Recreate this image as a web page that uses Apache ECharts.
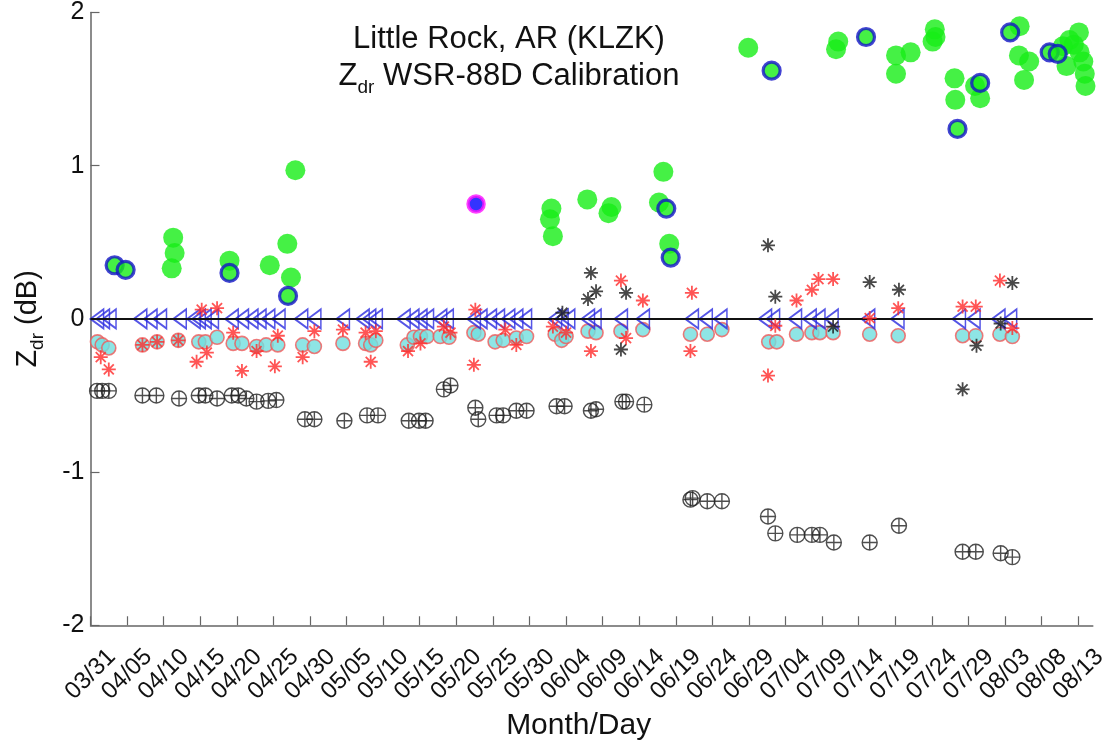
<!DOCTYPE html>
<html>
<head>
<meta charset="utf-8">
<script src="https://cdn.jsdelivr.net/npm/echarts@6/dist/echarts.min.js"></script>
<style>html,body{margin:0;padding:0;background:#fff}#c{width:1110px;height:746px}</style>
</head>
<body>
<div id="c"></div>
<script>
// x values: days since 03/31
const tickLabels = ['03/31','04/05','04/10','04/15','04/20','04/25','04/30','05/05','05/10','05/15','05/20','05/25','05/30','06/04','06/09','06/14','06/19','06/24','06/29','07/04','07/09','07/14','07/19','07/24','07/29','08/03','08/08','08/13'];
const yTicks = [-2, -1, 0, 1, 2];

const greenPts = [[11.3,0.53],[11.5,0.43],[11.1,0.33],[19.0,0.38],[24.5,0.35],[26.9,0.49],[27.4,0.27],[28.0,0.97],
 [63.0,0.72],[62.8,0.65],[63.2,0.54],[67.9,0.78],[71.2,0.73],[70.8,0.69],[78.3,0.96],[77.7,0.76],[79.1,0.49],
 [89.9,1.77],[102.2,1.81],[101.9,1.76],[110.1,1.72],[112.1,1.74],[110.1,1.60],[115.4,1.89],[115.5,1.84],[115.1,1.81],
 [118.1,1.57],[118.2,1.43],[120.9,1.52],[121.6,1.44],[127.0,1.91],[126.9,1.72],[128.3,1.68],[127.6,1.56],
 [135.1,1.87],[133.8,1.82],[134.4,1.79],[135.2,1.74],[133.4,1.65],[135.7,1.68],[135.9,1.60],[136.0,1.52],[132.9,1.78]];
const greenBluePts = [[3.3,0.35],[4.8,0.32],[19.0,0.30],[27.0,0.15],[78.7,0.72],[79.3,0.40],[93.1,1.62],[106.0,1.84],[118.5,1.24],[121.6,1.54],[125.7,1.87],[131.1,1.74],[132.2,1.73]];
const magentaPts = [[52.7,0.75]];
const triangleDays = [0.9,1.7,2.6,6.8,8.2,9.5,12.2,14.1,14.8,15.6,16.6,19.3,20.7,22.0,23.1,24.3,25.7,28.8,30.6,34.5,37.2,38.1,39.0,42.8,44.0,45.1,46.0,47.8,48.7,52.4,53.3,54.6,55.7,57.1,58.2,59.4,63.5,64.4,65.3,68.0,68.9,72.5,75.5,82.2,84.1,86.1,92.2,93.3,96.3,98.3,99.5,101.3,106.3,110.3,118.7,120.7,124.1,125.7];
const triangleVals = triangleDays.map(() => 0);
const cyanPts = [[0.95,-0.15],[1.6,-0.17],[2.5,-0.19],[7.1,-0.17],[9.1,-0.15],[12.0,-0.14],[14.8,-0.15],[15.7,-0.15],[17.3,-0.12],[19.5,-0.16],[20.7,-0.16],[22.7,-0.18],[24.0,-0.17],[25.6,-0.17],[29.0,-0.17],[30.6,-0.18],[34.5,-0.16],[37.6,-0.16],[38.3,-0.17],[39.0,-0.14],[43.3,-0.17],[44.2,-0.12],[45.1,-0.115],[46.0,-0.115],[47.8,-0.115],[49.0,-0.12],[52.4,-0.09],[53.0,-0.10],[55.3,-0.15],[56.4,-0.14],[58.2,-0.125],[59.6,-0.115],[63.5,-0.10],[64.4,-0.14],[65.0,-0.115],[68.0,-0.08],[69.1,-0.09],[72.5,-0.08],[75.5,-0.07],[82.0,-0.10],[84.3,-0.10],[86.3,-0.07],[92.7,-0.15],[93.8,-0.15],[96.5,-0.10],[98.6,-0.09],[99.7,-0.09],[101.5,-0.09],[106.5,-0.10],[110.4,-0.11],[119.2,-0.11],[121.0,-0.11],[124.3,-0.10],[126.0,-0.115]];
const redStarPts = [[15.2,0.06],[17.3,0.07],[1.4,-0.25],[2.5,-0.33],[14.5,-0.28],[15.9,-0.22],[19.5,-0.09],[20.7,-0.34],[22.7,-0.21],[25.2,-0.31],[25.6,-0.11],[7.1,-0.17],[9.1,-0.15],[12.0,-0.14],
 [30.6,-0.08],[29.0,-0.25],[34.5,-0.07],[37.6,-0.09],[39.0,-0.08],[38.3,-0.28],[43.4,-0.21],[45.1,-0.16],[48.3,-0.05],[49.2,-0.09],[52.6,0.06],[52.4,-0.30],
 [56.7,-0.07],[58.2,-0.17],[63.2,-0.05],[65.0,-0.09],[68.4,-0.21],[72.5,0.25],[73.2,-0.125],[75.5,0.12],[82.0,-0.21],[82.2,0.17],
 [92.6,-0.37],[93.6,-0.045],[96.5,0.12],[98.6,0.19],[99.5,0.26],[101.5,0.26],[106.5,0.005],[110.4,0.07],[119.2,0.08],[121.0,0.08],[124.3,0.25],[126.0,-0.06]];
const blackStarPts = [[68.4,0.30],[69.1,0.18],[68.0,0.13],[73.2,0.17],[72.5,-0.20],[64.5,0.04],[92.6,0.48],[93.6,0.145],[106.5,0.24],[110.5,0.19],[119.2,-0.46],[121.1,-0.175],[126.0,0.235],[124.4,-0.03],[101.5,-0.05]];
const circlePlusPts = [[0.9,-0.47],[1.6,-0.47],[2.5,-0.47],[7.1,-0.50],[9.0,-0.50],[12.1,-0.52],[14.8,-0.50],[15.7,-0.50],[17.3,-0.52],[19.3,-0.50],[20.2,-0.50],[21.3,-0.52],[22.7,-0.54],[24.3,-0.535],[25.4,-0.53],[29.3,-0.655],[30.6,-0.655],[34.7,-0.665],[37.8,-0.63],[39.3,-0.63],[43.5,-0.665],[44.9,-0.665],[45.8,-0.665],[48.3,-0.46],[49.2,-0.435],[52.6,-0.58],[53.0,-0.655],[55.5,-0.63],[56.4,-0.63],[58.2,-0.60],[59.6,-0.60],[63.7,-0.57],[64.8,-0.57],[68.4,-0.60],[69.1,-0.59],[72.7,-0.54],[73.2,-0.54],[75.7,-0.56],[82.0,-1.18],[82.3,-1.17],[84.3,-1.19],[86.3,-1.19],[92.6,-1.29],[93.6,-1.40],[96.6,-1.41],[98.6,-1.41],[99.7,-1.41],[101.6,-1.46],[106.5,-1.46],[110.5,-1.35],[119.2,-1.52],[121.0,-1.52],[124.4,-1.53],[126.0,-1.555]];

const tickDays = tickLabels.map((_, i) => i * 5);
const FONT = '"Liberation Sans", Arial, Helvetica, sans-serif';
const STAR = 'path://M0 7L14 7M7 0L7 14M2 2L12 12M12 2L2 12';
const CPLUS = 'path://M0 7A7 7 0 1 1 14 7A7 7 0 1 1 0 7ZM0 7L14 7M7 0L7 14';

const chart = echarts.init(document.getElementById('c'), null, {renderer: 'canvas'});
chart.setOption({
  animation: false,
  backgroundColor: '#fff',
  textStyle: {fontFamily: FONT},
  title: {
    text: '{a|Little Rock, AR (KLZK)}\n{a|Z}{s|dr}{a| WSR-88D Calibration}',
    left: 504, top: 16, textAlign: 'center',
    textStyle: {
      fontWeight: 'normal', fontFamily: FONT,
      rich: {
        a: {fontSize: 31, lineHeight: 37, color: '#111', fontFamily: FONT},
        s: {fontSize: 19, lineHeight: 14, padding: [23, 0, 0, 0], color: '#111', fontFamily: FONT}
      }
    }
  },
  grid: {left: 88, right: 13, top: 11, bottom: 118, containLabel: false},
  xAxis: {
    type: 'value', min: 0, max: 137, interval: 5,
    name: 'Month/Day', nameLocation: 'middle', nameGap: 81,
    nameTextStyle: {fontSize: 30, color: '#111', fontFamily: FONT, padding: [0, 26, 0, 0]},
    axisLine: {show: true, onZero: false, lineStyle: {color: '#666', width: 1.5}},
    axisTick: {show: true, inside: true, length: 9, customValues: tickDays, lineStyle: {color: '#666', width: 1.2}},
    axisLabel: {
      customValues: tickDays, rotate: 45, align: 'center', verticalAlign: 'middle', margin: 49,
      fontSize: 24, color: '#111', fontFamily: FONT,
      formatter: v => tickLabels[Math.round(v / 5)]
    },
    splitLine: {show: false}
  },
  yAxis: {
    type: 'value', min: yTicks[0], max: yTicks[yTicks.length - 1], interval: 1,
    name: '{z|Z}{s|dr}{z| (dB)}', nameLocation: 'middle', nameGap: 46,
    nameTextStyle: {
      color: '#111',
      rich: {
        z: {fontSize: 29, lineHeight: 34, color: '#111', fontFamily: FONT},
        s: {fontSize: 19, lineHeight: 14, padding: [20, 0, 0, 0], color: '#111', fontFamily: FONT}
      }
    },
    axisLine: {show: true, onZero: false, lineStyle: {color: '#666', width: 1.5}},
    axisTick: {show: true, inside: true, length: 9, lineStyle: {color: '#666', width: 1.2}},
    axisLabel: {fontSize: 25, color: '#111', margin: 6, fontFamily: FONT},
    splitLine: {show: false}
  },
  series: [
    {type: 'scatter', name: 'cyan', data: cyanPts, symbol: 'circle', symbolSize: 14,
     itemStyle: {color: '#72dede', borderColor: '#f05a5a', borderWidth: 1.6}, z: 2},
    {type: 'scatter', name: 'tri', data: triangleDays.map((d, i) => [d, triangleVals[i]]), symbol: 'triangle', symbolSize: [19, 13], symbolRotate: 90,
     itemStyle: {color: 'rgba(0,0,0,0)', borderColor: '#2a2ae0', borderWidth: 1.8}, z: 3},
    {type: 'line', name: 'zero', data: [], z: 4, silent: true,
     markLine: {silent: true, symbol: ['none', 'none'], label: {show: false}, animation: false,
       lineStyle: {color: '#111', width: 2, type: 'solid'}, data: [{yAxis: 0}]}},
    {type: 'scatter', name: 'redstar', data: redStarPts, symbol: STAR, symbolSize: 14,
     itemStyle: {color: 'rgba(0,0,0,0)', borderColor: '#ff2a2a', borderWidth: 1.8}, z: 5},
    {type: 'scatter', name: 'blackstar', data: blackStarPts, symbol: STAR, symbolSize: 14,
     itemStyle: {color: 'rgba(0,0,0,0)', borderColor: '#1a1a1a', borderWidth: 1.8}, z: 5},
    {type: 'scatter', name: 'cplus', data: circlePlusPts, symbol: CPLUS, symbolSize: 15,
     itemStyle: {color: 'rgba(0,0,0,0)', borderColor: '#222', borderWidth: 1.4}, z: 5},
    {type: 'scatter', name: 'green', data: greenPts, symbol: 'circle', symbolSize: 20,
     itemStyle: {color: '#16ee16'}, z: 6},
    {type: 'scatter', name: 'greenblue', data: greenBluePts, symbol: 'circle', symbolSize: 17,
     itemStyle: {color: '#16ee16', borderColor: '#1414c8', borderWidth: 3.2}, z: 7},
    {type: 'scatter', name: 'magenta', data: magentaPts, symbol: 'circle', symbolSize: 16,
     itemStyle: {color: '#0000ff', borderColor: '#ff10ff', borderWidth: 3.5}, z: 7}
  ]
});
</script>
</body>
</html>
